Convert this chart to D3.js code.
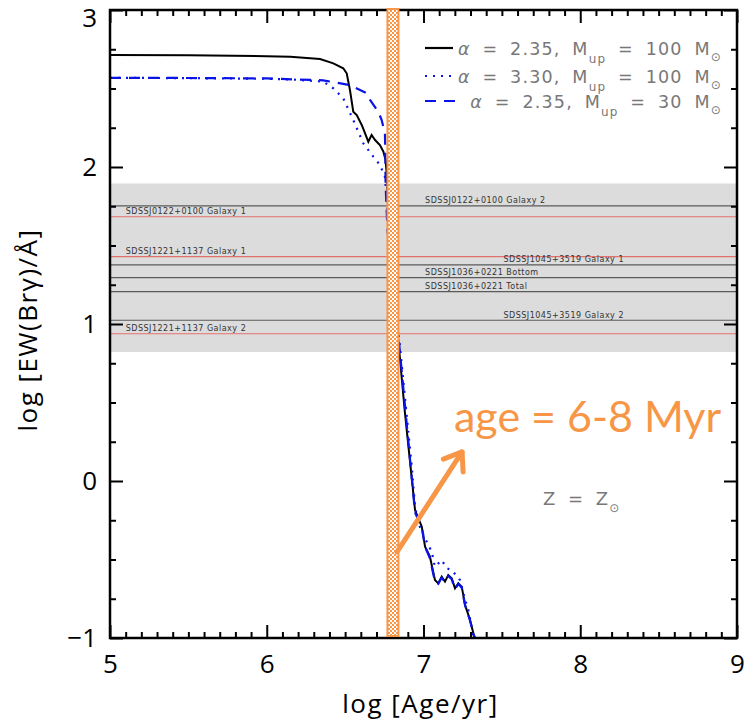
<!DOCTYPE html>
<html>
<head>
<meta charset="utf-8">
<script src="https://cdn.jsdelivr.net/npm/d3@7"></script>
<style>
  body { margin: 0; background: white; }
  svg { display: block; }
</style>
</head>
<body>
<div id="chart"></div>
<script>
// --- data ---
// alpha = 2.35, Mup = 100 Msun (black solid)
const solidAge = [5.0, 5.5, 6.0, 6.15, 6.34, 6.425, 6.488, 6.51, 6.531, 6.552, 6.574, 6.606, 6.648, 6.669, 6.691, 6.722, 6.744, 6.758, 6.765, 6.78, 6.81, 6.839, 6.88, 6.93, 6.946, 6.989, 7.01, 7.041, 7.073, 7.094, 7.116, 7.137, 7.158, 7.18, 7.201, 7.222, 7.244, 7.265, 7.297, 7.318, 7.325];
const solidEW = [2.713, 2.712, 2.706, 2.703, 2.688, 2.66, 2.629, 2.597, 2.49, 2.352, 2.331, 2.268, 2.161, 2.204, 2.172, 2.14, 2.098, 2.045, 1.96, 1.6, 1.2, 0.898, 0.45, -0.03, -0.185, -0.291, -0.418, -0.482, -0.631, -0.652, -0.61, -0.641, -0.599, -0.62, -0.683, -0.652, -0.673, -0.79, -0.885, -0.97, -1.0];

// alpha = 3.30, Mup = 100 Msun (blue dotted)
const dottedAge = [5.0, 5.5, 6.0, 6.15, 6.36, 6.425, 6.488, 6.552, 6.616, 6.68, 6.722, 6.754, 6.78, 6.81, 6.85, 6.925, 6.946, 6.967, 7.01, 7.031, 7.052, 7.073, 7.116, 7.148, 7.18, 7.233, 7.254, 7.286, 7.307, 7.32];
const dottedEW = [2.568, 2.566, 2.562, 2.558, 2.544, 2.501, 2.438, 2.299, 2.151, 2.066, 2.013, 1.938, 1.6, 1.2, 0.855, 0.091, -0.164, -0.269, -0.365, -0.408, -0.45, -0.546, -0.503, -0.556, -0.567, -0.631, -0.716, -0.822, -0.928, -1.0];

// alpha = 2.35, Mup = 30 Msun (blue dashed)
const dashedAge = [5.0, 5.5, 6.0, 6.36, 6.531, 6.638, 6.659, 6.712, 6.733, 6.754, 6.756, 6.758, 6.77, 6.845, 6.93, 6.946, 6.99, 7.01, 7.04, 7.073, 7.094, 7.116, 7.137, 7.158, 7.18, 7.201, 7.222, 7.244, 7.265, 7.297, 7.32, 7.33];
const dashedEW = [2.568, 2.567, 2.564, 2.552, 2.522, 2.469, 2.427, 2.352, 2.299, 2.215, 2.12, 1.896, 1.6, 0.87, -0.03, -0.2, -0.3, -0.42, -0.49, -0.64, -0.655, -0.615, -0.645, -0.605, -0.625, -0.69, -0.655, -0.68, -0.79, -0.89, -0.98, -1.0];

// observed galaxies: log EW(Br gamma)
const obsNames = ["SDSSJ0122+0100 Galaxy 2", "SDSSJ0122+0100 Galaxy 1", "SDSSJ1221+1137 Galaxy 1", "SDSSJ1045+3519 Galaxy 1", "SDSSJ1036+0221 Bottom", "SDSSJ1036+0221 Total", "SDSSJ1045+3519 Galaxy 2", "SDSSJ1221+1137 Galaxy 2"];
const obsEW = [1.752, 1.683, 1.429, 1.376, 1.295, 1.206, 1.024, 0.938];
const obsKind = ["gray", "red", "red", "gray", "gray", "gray", "gray", "red"];
const obsLabelAge = [7.01, 5.1, 5.1, 7.51, 7.01, 7.01, 7.51, 5.1];

const bandRange = [0.822, 1.895];
const ageBar = [6.77, 6.84];
const arrowFrom = [6.831, -0.452];
const arrowTo = [7.246, 0.185];

const xTicks = [5, 6, 7, 8, 9];
const yTicks = [-1, 0, 1, 2, 3];

// --- layout ---
const margin = { top: 10, right: 9, bottom: 84, left: 110 };
const W = 746, H = 722;
const width = W - margin.left - margin.right;
const height = H - margin.top - margin.bottom;

const orange = "#f79646";
const blue = "#0a14e6";

const svg = d3.select("#chart").append("svg")
  .attr("width", W)
  .attr("height", H);

const defs = svg.append("defs");
const pat = defs.append("pattern")
  .attr("id", "checker")
  .attr("patternUnits", "userSpaceOnUse")
  .attr("width", 4)
  .attr("height", 4);
pat.append("rect").attr("width", 4).attr("height", 4).attr("fill", "white");
pat.append("rect").attr("width", 2).attr("height", 2).attr("fill", orange);
pat.append("rect").attr("x", 2).attr("y", 2).attr("width", 2).attr("height", 2).attr("fill", orange);

defs.append("clipPath").attr("id", "plotclip")
  .append("rect").attr("width", width).attr("height", height);

const g = svg.append("g")
  .attr("transform", "translate(" + margin.left + "," + margin.top + ")");

const x = d3.scaleLinear().domain([5, 9]).range([0, width]);
const y = d3.scaleLinear().domain([-1, 3]).range([height, 0]);

// grey band of observed values
g.append("rect")
  .attr("x", 0)
  .attr("y", y(bandRange[1]))
  .attr("width", width)
  .attr("height", y(bandRange[0]) - y(bandRange[1]))
  .attr("fill", "#dcdcdc");

// observed lines + labels
obsEW.forEach((v, i) => {
  g.append("line")
    .attr("x1", 0).attr("x2", width)
    .attr("y1", y(v)).attr("y2", y(v))
    .attr("stroke", obsKind[i] === "red" ? "#e4706c" : "#5a5a5a")
    .attr("stroke-width", 1.2);
  g.append("text")
    .attr("x", x(obsLabelAge[i]))
    .attr("y", y(v) - 2.5)
    .attr("font-family", "DejaVu Sans, sans-serif")
    .attr("font-size", 8)
    .attr("letter-spacing", 0.5)
    .attr("fill", "#333")
    .text(obsNames[i]);
});

// model curves
const line = d3.line().x(d => x(d[0])).y(d => y(d[1]));
const curves = g.append("g").attr("clip-path", "url(#plotclip)");

curves.append("path")
  .datum(solidAge.map((a, i) => [a, solidEW[i]]))
  .attr("d", line)
  .attr("fill", "none")
  .attr("stroke", "black")
  .attr("stroke-width", 2);

curves.append("path")
  .datum(dottedAge.map((a, i) => [a, dottedEW[i]]))
  .attr("d", line)
  .attr("fill", "none")
  .attr("stroke", blue)
  .attr("stroke-width", 2.2)
  .attr("stroke-dasharray", "2,6");

curves.append("path")
  .datum(dashedAge.map((a, i) => [a, dashedEW[i]]))
  .attr("d", line)
  .attr("fill", "none")
  .attr("stroke", blue)
  .attr("stroke-width", 2.2)
  .attr("stroke-dasharray", "11,8");

// axes (ticks point inwards)
function styleAxis(sel) {
  sel.select(".domain").remove();
  sel.selectAll("line").attr("stroke", "black").attr("stroke-width", 2);
  sel.selectAll("text")
    .attr("font-family", "Open Sans, sans-serif")
    .attr("font-size", 26)
    .attr("fill", "black");
}

const minorX = d3.range(50, 91).map(d => d / 10).filter(d => Math.abs(d - Math.round(d)) > 1e-6);
const minorY = d3.range(-4, 13).map(d => d / 4).filter(d => Math.abs(d - Math.round(d)) > 1e-6);

g.append("g").attr("transform", "translate(0," + height + ")")
  .call(d3.axisBottom(x).tickValues(xTicks).tickSize(-13).tickPadding(17).tickFormat(d3.format("d")))
  .call(styleAxis);
g.append("g").attr("transform", "translate(0," + height + ")")
  .call(d3.axisBottom(x).tickValues(minorX).tickSize(-6).tickFormat(""))
  .call(styleAxis);
g.append("g")
  .call(d3.axisTop(x).tickValues(xTicks).tickSize(-13).tickFormat(""))
  .call(styleAxis);
g.append("g")
  .call(d3.axisTop(x).tickValues(minorX).tickSize(-6).tickFormat(""))
  .call(styleAxis);

const yAxisG = g.append("g")
  .call(d3.axisLeft(y).tickValues(yTicks).tickSize(-13).tickPadding(13).tickFormat(d => d < 0 ? "\u2212" + Math.abs(d) : d))
  .call(styleAxis);
// top label sits a little lower so it stays on the page
yAxisG.selectAll(".tick text").filter(d => d === 3).attr("y", 8);
g.append("g")
  .call(d3.axisLeft(y).tickValues(minorY).tickSize(-6).tickFormat(""))
  .call(styleAxis);
g.append("g").attr("transform", "translate(" + width + ",0)")
  .call(d3.axisRight(y).tickValues(yTicks).tickSize(-13).tickFormat(""))
  .call(styleAxis);
g.append("g").attr("transform", "translate(" + width + ",0)")
  .call(d3.axisRight(y).tickValues(minorY).tickSize(-6).tickFormat(""))
  .call(styleAxis);

// frame
g.append("rect")
  .attr("width", width)
  .attr("height", height)
  .attr("fill", "none")
  .attr("stroke", "black")
  .attr("stroke-width", 2.5);

// age bar
g.append("rect")
  .attr("x", x(ageBar[0]))
  .attr("y", -1)
  .attr("width", x(ageBar[1]) - x(ageBar[0]))
  .attr("height", height - 1)
  .attr("fill", "url(#checker)")
  .attr("stroke", orange)
  .attr("stroke-width", 2);

// legend
const legend = g.append("g")
  .attr("font-family", "DejaVu Sans, sans-serif")
  .attr("fill", "#787878");
const legRows = [
  { alpha: "2.35", mup: "100", dash: null, y: 38 },
  { alpha: "3.30", mup: "100", dash: "2,6", y: 66 },
  { alpha: "2.35", mup: "30", dash: "11,8", y: 91 }
];
legRows.forEach(r => {
  legend.append("line")
    .attr("x1", 315).attr("x2", r.dash === "11,8" ? 347 : 343)
    .attr("y1", r.y).attr("y2", r.y)
    .attr("stroke", r.dash ? blue : "black")
    .attr("stroke-width", 2.2)
    .attr("stroke-dasharray", r.dash);
  const t = legend.append("text")
    .attr("x", 612)
    .attr("y", r.y + 7)
    .attr("text-anchor", "end")
    .attr("font-size", 17.5)
    .attr("letter-spacing", 1.2)
    .attr("word-spacing", 5);
  t.append("tspan").attr("font-style", "italic").text("\u03b1");
  t.append("tspan").text(" = " + r.alpha + ", M");
  t.append("tspan").attr("font-size", 12).attr("dy", 8).text("up");
  t.append("tspan").attr("dy", -8).text(" = " + r.mup + " M");
  t.append("tspan").attr("font-size", 12).attr("dy", 6).text("\u2299");
});

// Z = Zsun
const zt = g.append("text")
  .attr("x", 433)
  .attr("y", 495)
  .attr("font-family", "DejaVu Sans, sans-serif")
  .attr("font-size", 18)
  .attr("letter-spacing", 1)
  .attr("word-spacing", 5)
  .attr("fill", "#787878");
zt.append("tspan").text("Z = Z");
zt.append("tspan").attr("font-size", 12).attr("dy", 7).text("\u2299");

// age annotation
g.append("text")
  .attr("x", 344)
  .attr("y", 422)
  .attr("font-family", "Lato, sans-serif")
  .attr("font-size", 43)
  .attr("fill", orange)
  .text("age = 6-8 Myr");

const ax0 = x(arrowFrom[0]), ay0 = y(arrowFrom[1]);
const ax1 = x(arrowTo[0]), ay1 = y(arrowTo[1]);
const ang = Math.atan2(ay1 - ay0, ax1 - ax0);
const headLen = 20, headAng = Math.PI / 5;
const arrow = g.append("g")
  .attr("stroke", orange)
  .attr("stroke-width", 5)
  .attr("stroke-linecap", "round")
  .attr("fill", "none");
arrow.append("line").attr("x1", ax0).attr("y1", ay0).attr("x2", ax1).attr("y2", ay1);
arrow.append("polyline")
  .attr("stroke-linejoin", "round")
  .attr("points", [
    [ax1 - headLen * Math.cos(ang - headAng), ay1 - headLen * Math.sin(ang - headAng)],
    [ax1, ay1],
    [ax1 - headLen * Math.cos(ang + headAng), ay1 - headLen * Math.sin(ang + headAng)]
  ].map(p => p.join(",")).join(" "));

// axis titles
svg.append("text")
  .attr("x", margin.left + width / 2 - 3)
  .attr("y", 713)
  .attr("text-anchor", "middle")
  .attr("font-family", "Open Sans, sans-serif")
  .attr("font-size", 26)
  .attr("letter-spacing", 1.5)
  .text("log [Age/yr]");

svg.append("text")
  .attr("transform", "translate(37," + 330 + ") rotate(-90)")
  .attr("text-anchor", "middle")
  .attr("font-family", "Open Sans, sans-serif")
  .attr("font-size", 26)
  .attr("letter-spacing", 1.5)
  .text("log [EW(Br\u03b3)/\u00c5]");
</script>
</body>
</html>
